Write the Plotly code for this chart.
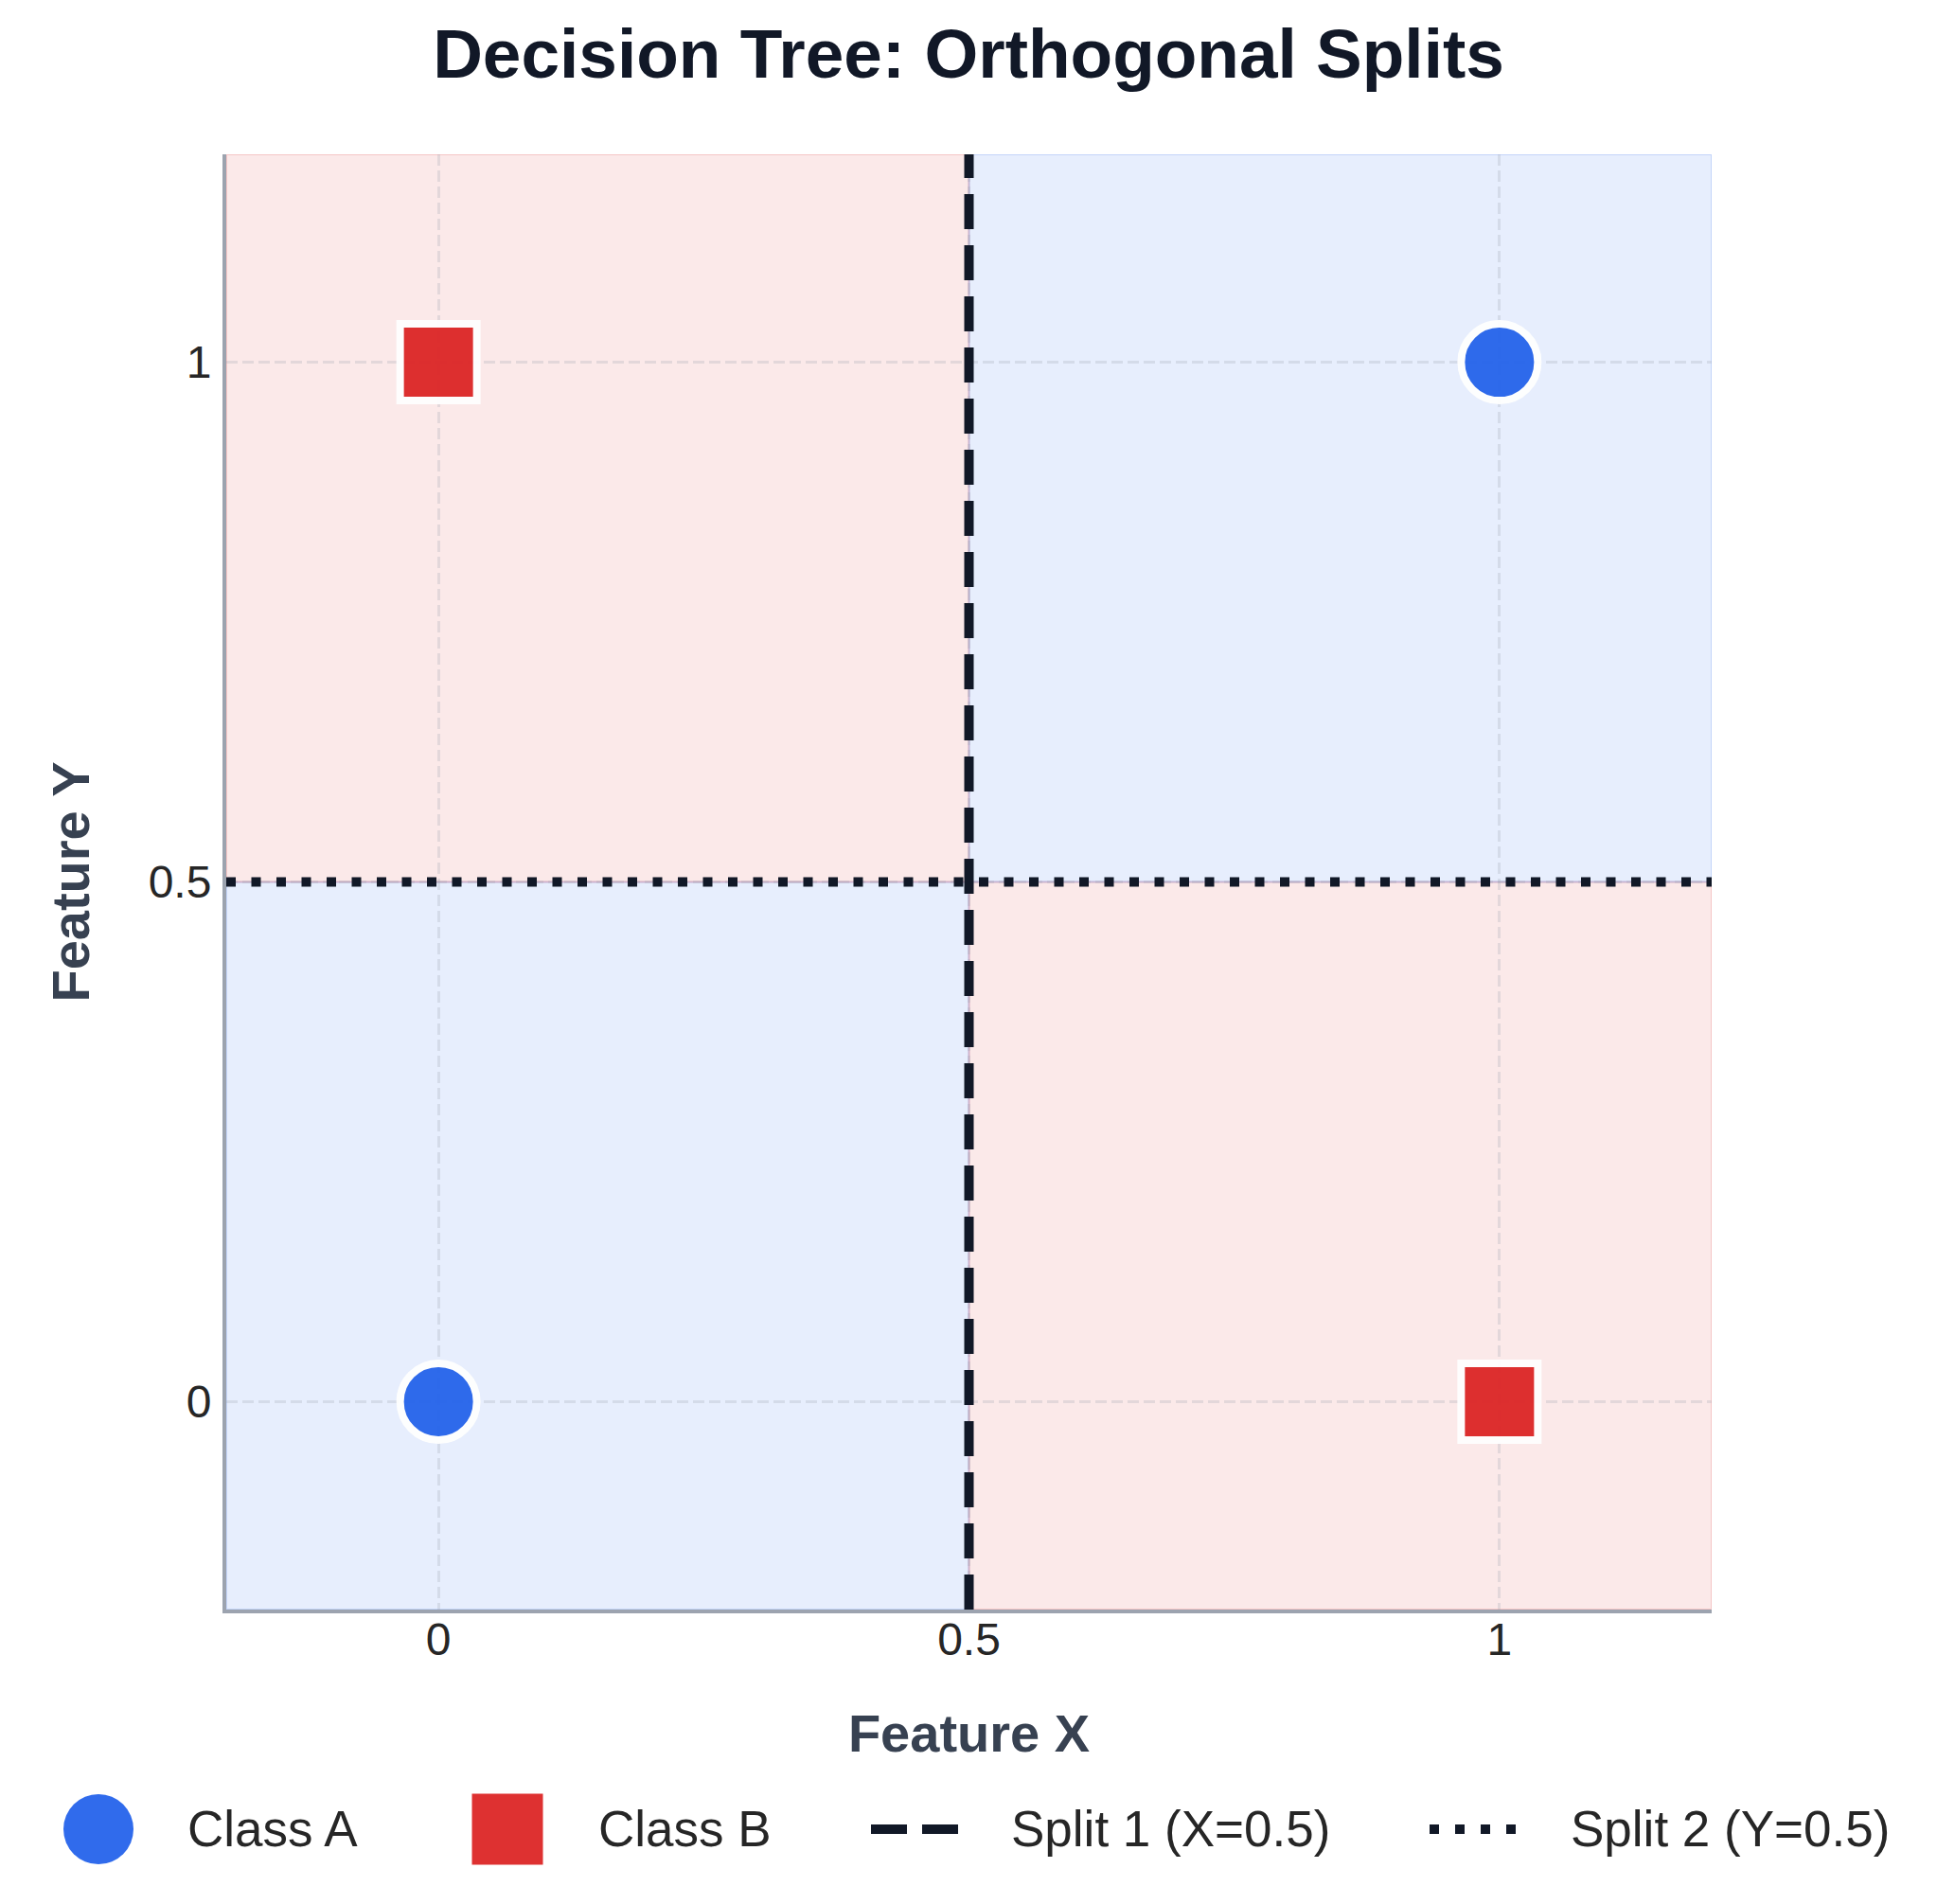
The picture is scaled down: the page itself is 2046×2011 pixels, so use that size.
import plotly.graph_objects as go

# ---------------- data ----------------
class_a_x = [0, 1]
class_a_y = [0, 1]
class_b_x = [0, 1]
class_b_y = [1, 0]
split_x = 0.5
split_y = 0.5
axis_range = [-0.2, 1.2]
tick_vals = [0, 0.5, 1]
tick_text = ["0", "0.5", "1"]
# predicted class per quadrant: rows = [lower, upper], cols = [left, right]
region_class = [["A", "B"], ["B", "A"]]
legend_labels = ["Class A", "Class B", "Split 1 (X=0.5)", "Split 2 (Y=0.5)"]

# ---------------- style ----------------
W, H = 2046, 2011
ML, MR, MT, MB = 239, 238, 163, 311
PW, PH = W - ML - MR, H - MT - MB
BLUE = "#2563eb"
RED = "#dc2626"
DARK = "#111827"
FONT = "Liberation Sans, Arial, sans-serif"
fills = {"A": "rgba(37,99,235,0.11)", "B": "rgba(220,38,38,0.10)"}
edges = {"A": "rgba(37,99,235,0.18)", "B": "rgba(220,38,38,0.18)"}

fig = go.Figure()

# regions
xb = [axis_range[0], split_x, axis_range[1]]
yb = [axis_range[0], split_y, axis_range[1]]
shapes = []
for r in range(2):
    for c in range(2):
        cl = region_class[r][c]
        shapes.append(dict(type="rect", xref="x", yref="y",
                           x0=xb[c], x1=xb[c + 1], y0=yb[r], y1=yb[r + 1],
                           fillcolor=fills[cl], line=dict(color=edges[cl], width=2),
                           layer="below"))

# split lines
fig.add_trace(go.Scatter(x=axis_range, y=[split_y, split_y], mode="lines",
                         line=dict(color=DARK, width=10, dash="10px,16.5px"),
                         showlegend=False, hoverinfo="skip"))
fig.add_trace(go.Scatter(x=[split_x, split_x], y=axis_range, mode="lines",
                         line=dict(color=DARK, width=10, dash="37px,17px"),
                         showlegend=False, hoverinfo="skip"))

# points
fig.add_trace(go.Scatter(x=class_a_x, y=class_a_y, mode="markers",
                         marker=dict(symbol="circle", size=81, color=BLUE, opacity=0.95,
                                     line=dict(color="white", width=8)),
                         name=legend_labels[0], showlegend=False))
fig.add_trace(go.Scatter(x=class_b_x, y=class_b_y, mode="markers",
                         marker=dict(symbol="square", size=81, color=RED, opacity=0.95,
                                     line=dict(color="white", width=8)),
                         name=legend_labels[1], showlegend=False))

# ---------------- custom legend (pixel layout) ----------------
def px_x(px):
    return (px - ML) / PW

def px_y(py):
    return (MT + PH - py) / PH

leg_y = 1932
annotations = []
# circle
shapes.append(dict(type="circle", xref="paper", yref="paper", xsizemode="pixel", ysizemode="pixel",
                   xanchor=px_x(104), yanchor=px_y(leg_y), x0=-37, x1=37, y0=-37, y1=37,
                   fillcolor=BLUE, opacity=0.95, line=dict(width=0)))
# square
shapes.append(dict(type="rect", xref="paper", yref="paper", xsizemode="pixel", ysizemode="pixel",
                   xanchor=px_x(536), yanchor=px_y(leg_y), x0=-37.5, x1=37.5, y0=-37.5, y1=37.5,
                   fillcolor=RED, opacity=0.95, line=dict(width=0)))
# dashed line
shapes.append(dict(type="line", xref="paper", yref="paper",
                   x0=px_x(920), x1=px_x(1012), y0=px_y(leg_y), y1=px_y(leg_y),
                   line=dict(color=DARK, width=10, dash="38px,16px")))
# dotted line
shapes.append(dict(type="line", xref="paper", yref="paper",
                   x0=px_x(1510), x1=px_x(1601), y0=px_y(leg_y), y1=px_y(leg_y),
                   line=dict(color=DARK, width=10, dash="10px,17px")))
for lab, tx in zip(legend_labels, [196, 630, 1066, 1657]):
    annotations.append(dict(text=lab, xref="paper", yref="paper", x=px_x(tx), y=px_y(leg_y - 1),
                            xanchor="left", yanchor="middle", showarrow=False,
                            font=dict(family=FONT, size=53, color="#262626")))

axis_common = dict(range=axis_range, tickvals=tick_vals, ticktext=tick_text,
                   showgrid=True, gridcolor="rgba(156,163,175,0.25)", gridwidth=3,
                   griddash="12px,5px", zeroline=False,
                   showline=True, linecolor="#9ca3af", linewidth=4,
                   ticks="",
                   tickfont=dict(family=FONT, size=48, color="#262626"))

fig.update_layout(
    width=W, height=H,
    margin=dict(l=ML, r=MR, t=MT, b=MB, autoexpand=False),
    paper_bgcolor="white", plot_bgcolor="white",
    title=dict(text="Decision Tree: Orthogonal Splits", x=0.5, xanchor="center",
               y=1 - 56 / H, yanchor="middle", yref="container",
               font=dict(family=FONT, size=73, color=DARK, weight="bold")),
    xaxis=dict(**axis_common, ticklabelstandoff=-14,
               title=dict(text="Feature X", standoff=55,
                          font=dict(family=FONT, size=56, color="#374151", weight="bold"))),
    yaxis=dict(**axis_common, ticklabelstandoff=2,
               title=dict(text="Feature Y", standoff=45,
                          font=dict(family=FONT, size=56, color="#374151", weight="bold"))),
    shapes=shapes,
    annotations=annotations,
    showlegend=False,
)

fig.write_html("out.html")
